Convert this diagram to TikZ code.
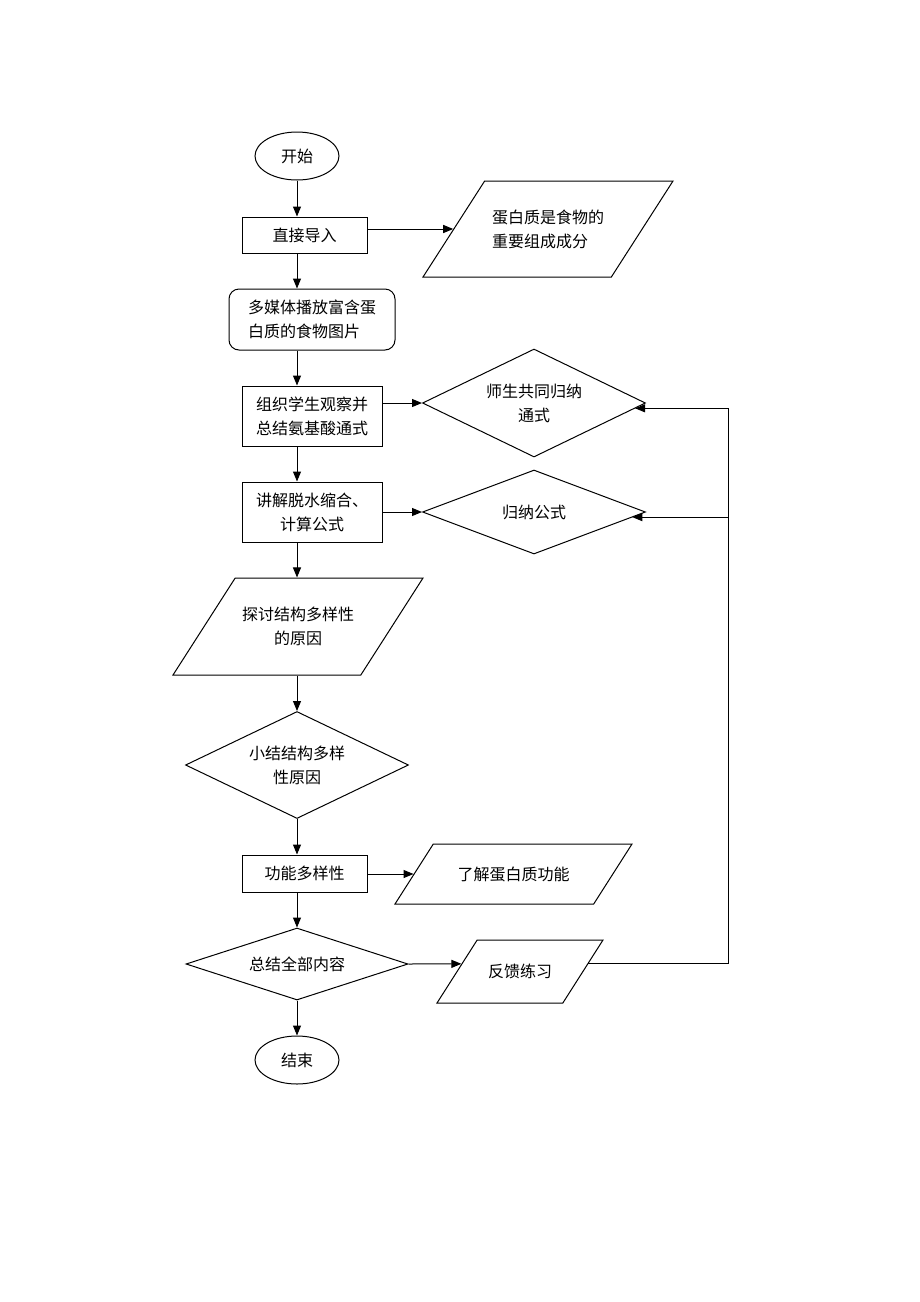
\documentclass[tikz,border=0pt]{standalone}
\usepackage{fontspec}
\setmainfont{Noto Sans CJK SC}
\usetikzlibrary{shapes.geometric,arrows.meta,calc}

\begin{document}
\begin{tikzpicture}[x=1pt,y=-1pt,line width=1pt,
    >={Triangle[length=10pt,width=8pt]},
    every node/.style={font=\fontsize{16}{24}\selectfont,inner sep=0pt},
    box/.style={draw,rectangle,align=center},
    oval/.style={draw,ellipse,minimum width=84pt,minimum height=48pt},
    choice/.style={draw,diamond,aspect=2,align=center},
    io/.style={draw,trapezium,trapezium left angle=57,trapezium right angle=123,
      trapezium stretches body,align=center}]
  \useasboundingbox (0,0) rectangle (920,1302);
  \coordinate (ax) at (297,0);
  \coordinate (rx) at (728,0);

  % main column
  \node[oval] (start) at (297,156) {开始};
  \node[box,minimum width=125pt,minimum height=36pt] (lead) at (304.5,235) {直接导入};
  \node[box,rounded corners=10pt,minimum width=166pt,minimum height=61pt,align=left]
    (media) at (312,319.5) {多媒体播放富含蛋\\白质的食物图片};
  \node[box,minimum width=140pt,minimum height=60pt] (observe) at (312,416)
    {组织学生观察并\\总结氨基酸通式};
  \node[box,minimum width=140pt,minimum height=60pt] (explain) at (312,512)
    {讲解脱水缩合、\\计算公式};
  \node[io,inner ysep=28.5pt,minimum width=250pt,minimum height=97pt] (reason)
    at (298,626.5) {探讨结构多样性\\的原因};
  \node[choice,minimum width=223pt,minimum height=107pt] (sum) at (297,765)
    {小结结构多样\\性原因};
  \node[box,minimum width=125pt,minimum height=37pt] (func) at (304.5,873.5) {功能多样性};
  \node[choice,minimum width=222pt,minimum height=72pt] (all) at (297,964) {总结全部内容};
  \node[oval] (stop) at (297,1060) {结束};

  % side column
  \node[io,inner ysep=28pt,minimum width=250pt,minimum height=96pt,align=left] (fact)
    at (548,229) {蛋白质是食物的\\重要组成成分};
  \node[choice,minimum width=223pt,minimum height=108pt] (general) at (534,403)
    {师生共同归纳\\通式};
  \node[choice,minimum width=223pt,minimum height=84pt] (formula) at (534,512) {归纳公式};
  \node[io,inner ysep=22pt,minimum width=237pt,minimum height=60pt] (know)
    at (513.5,874) {了解蛋白质功能};
  \node[io,inner ysep=23.5pt,minimum width=166pt,minimum height=63pt] (drill)
    at (520,971.5) {反馈练习};
  \coordinate (drillin) at ($(drill.bottom left corner)!.62!(drill.top left corner)$);
  \coordinate (drillout) at ($(drill.bottom right corner)!.62!(drill.top right corner)$);

  \draw[->] (start) -- (ax |- lead.north);
  \draw[->] (ax |- lead.south) -- (ax |- media.north);
  \draw[->] (lead.east |- fact.west) -- (fact.west);
  \draw[->] (ax |- media.south) -- (ax |- observe.north);
  \draw[->] (observe.east |- general.west) -- (general.west);
  \draw[->] (ax |- observe.south) -- (ax |- explain.north);
  \draw[->] (explain.east |- formula.west) -- (formula.west);
  \draw[->] (ax |- explain.south) -- (ax |- reason.north);
  \draw[->] (ax |- reason.south) -- (sum.north);
  \draw[->] (sum) -- (ax |- func.north);
  \draw[->] (func.east |- know.west) -- (know.west);
  \draw[->] (ax |- func.south) -- (all.north);
  \draw[->] (all.east) -- (drillin);
  \draw[->] (all) -- (stop);
  \draw[->] (drillout) -- (drillout -| rx) |- (general.-3.5);
  \draw[->] (rx |- formula.-3.6) -- (formula.-3.6);
\end{tikzpicture}
\end{document}
